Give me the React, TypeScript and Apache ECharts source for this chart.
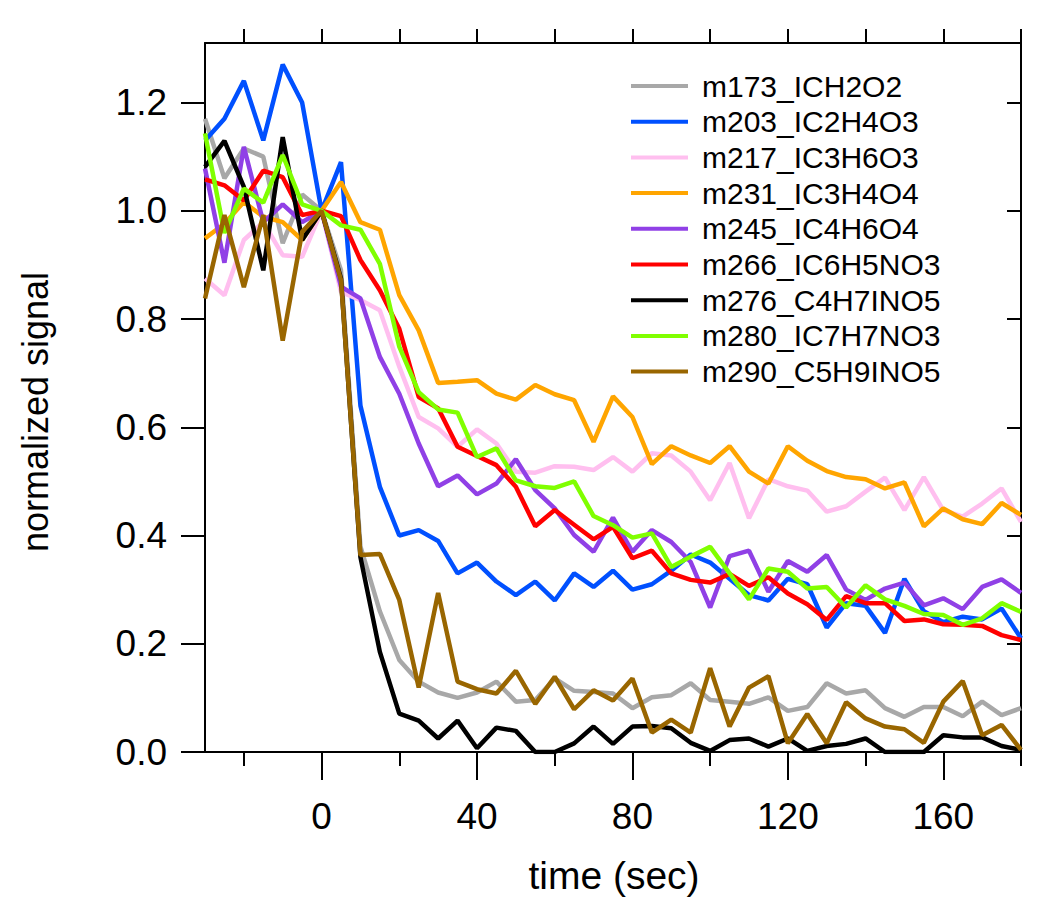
import React, { useEffect, useRef } from "react";
import * as echarts from "echarts";

const timeSec = [
  -30, -25, -20, -15, -10, -5, 0, 5, 10, 15, 20, 25, 30, 35, 40, 45, 50, 55, 60, 65, 70, 75,
  80, 85, 90, 95, 100, 105, 110, 115, 120, 125, 130, 135, 140, 145, 150, 155, 160, 165, 170, 175, 180,
];

const m173 = [
  1.17, 1.06, 1.115, 1.1, 0.94, 1.03, 1.0, 0.89, 0.38, 0.26, 0.17, 0.13, 0.11, 0.1, 0.11, 0.13,
  0.093, 0.096, 0.136, 0.113, 0.111, 0.108, 0.081, 0.101, 0.105, 0.127, 0.096, 0.093, 0.089, 0.101,
  0.076, 0.083, 0.127, 0.108, 0.114, 0.081, 0.065, 0.083, 0.083, 0.066, 0.093, 0.068, 0.081,
];
const m203 = [
  1.13, 1.17, 1.24, 1.13, 1.27, 1.2, 1.0, 1.09, 0.64, 0.49, 0.4, 0.41, 0.39, 0.33, 0.35, 0.315,
  0.29, 0.315, 0.28, 0.33, 0.305, 0.335, 0.3, 0.31, 0.335, 0.365, 0.35, 0.32, 0.29, 0.28,
  0.32, 0.31, 0.23, 0.275, 0.27, 0.22, 0.32, 0.26, 0.24, 0.25, 0.245, 0.265, 0.21,
];
const m217 = [
  0.875, 0.844, 0.946, 0.979, 0.918, 0.915, 1.0, 0.85, 0.835, 0.816, 0.712, 0.619, 0.598, 0.564,
  0.596, 0.57, 0.518, 0.516, 0.528, 0.527, 0.521, 0.545, 0.518, 0.552, 0.548, 0.518, 0.465, 0.534,
  0.432, 0.504, 0.491, 0.483, 0.444, 0.454, 0.481, 0.507, 0.447, 0.508, 0.447, 0.435, 0.459, 0.487, 0.425,
];
const m231 = [
  0.949, 0.976, 1.016, 0.989, 0.979, 0.946, 1.0, 1.053, 0.979, 0.965, 0.844, 0.779, 0.682, 0.684,
  0.687, 0.662, 0.651, 0.678, 0.661, 0.65, 0.573, 0.657, 0.619, 0.532, 0.565, 0.548, 0.534, 0.565,
  0.518, 0.496, 0.565, 0.538, 0.519, 0.508, 0.504, 0.487, 0.498, 0.417, 0.45, 0.43, 0.421, 0.46, 0.438,
];
const m245 = [
  1.078, 0.904, 1.118, 0.979, 1.012, 0.979, 1.0, 0.86, 0.838, 0.73, 0.662, 0.57, 0.491, 0.511,
  0.476, 0.496, 0.541, 0.484, 0.45, 0.401, 0.37, 0.433, 0.37, 0.41, 0.388, 0.351, 0.267, 0.362,
  0.372, 0.296, 0.353, 0.333, 0.364, 0.3, 0.281, 0.302, 0.313, 0.271, 0.284, 0.264, 0.305, 0.319, 0.294,
];
const m266 = [
  1.058, 1.047, 1.019, 1.074, 1.062, 0.992, 1.0, 0.99, 0.909, 0.853, 0.782, 0.656, 0.635, 0.564,
  0.547, 0.53, 0.49, 0.417, 0.447, 0.42, 0.393, 0.416, 0.358, 0.372, 0.33, 0.318, 0.313, 0.329,
  0.307, 0.323, 0.293, 0.273, 0.244, 0.288, 0.275, 0.275, 0.242, 0.245, 0.236, 0.235, 0.233, 0.216, 0.207,
];
const m276 = [
  1.081, 1.129, 1.044, 0.89, 1.136, 0.946, 1.0, 0.875, 0.36, 0.185, 0.071, 0.058, 0.025, 0.058,
  0.007, 0.045, 0.039, 0.0, 0.0, 0.016, 0.047, 0.015, 0.047, 0.048, 0.044, 0.017, 0.002, 0.022,
  0.025, 0.01, 0.025, 0.002, 0.011, 0.015, 0.025, 0.0, 0.0, 0.0, 0.031, 0.027, 0.027, 0.011, 0.004,
];
const m280 = [
  1.143, 0.959, 1.041, 1.015, 1.103, 1.012, 1.0, 0.973, 0.965, 0.902, 0.749, 0.665, 0.633, 0.627,
  0.545, 0.561, 0.502, 0.491, 0.488, 0.5, 0.436, 0.419, 0.396, 0.404, 0.342, 0.361, 0.379, 0.33,
  0.282, 0.339, 0.333, 0.302, 0.305, 0.267, 0.308, 0.282, 0.27, 0.255, 0.253, 0.235, 0.247, 0.275, 0.259,
];
const m290 = [
  0.838, 0.992, 0.859, 0.992, 0.76, 0.961, 1.0, 0.872, 0.364, 0.366, 0.281, 0.119, 0.294, 0.13,
  0.116, 0.108, 0.15, 0.089, 0.139, 0.079, 0.114, 0.095, 0.136, 0.036, 0.06, 0.036, 0.155, 0.047,
  0.119, 0.14, 0.016, 0.07, 0.016, 0.092, 0.062, 0.047, 0.042, 0.017, 0.093, 0.131, 0.031, 0.05, 0.004,
];

const seriesNames = [
  "m173_ICH2O2",
  "m203_IC2H4O3",
  "m217_IC3H6O3",
  "m231_IC3H4O4",
  "m245_IC4H6O4",
  "m266_IC6H5NO3",
  "m276_C4H7INO5",
  "m280_IC7H7NO3",
  "m290_C5H9INO5",
];
const seriesValues = [m173, m203, m217, m231, m245, m266, m276, m280, m290];
const seriesColors = [
  "#A8A8A8",
  "#0050FF",
  "#FFBFEF",
  "#FFA500",
  "#9040E6",
  "#FF0000",
  "#000000",
  "#80FF00",
  "#996600",
];

const xMajorTicks = [0, 40, 80, 120, 160];
const xMinorTicks = [-20, 20, 60, 100, 140, 180];
const xTopTicks = [-20, 0, 20, 40, 60, 80, 100, 120, 140, 160, 180];
const yTicks = [0, 0.2, 0.4, 0.6, 0.8, 1.0, 1.2];
const xTitle = "time (sec)";
const yTitle = "normalized signal";

const FONT = "'Liberation Sans', Arial, Helvetica, sans-serif";

export default function App() {
  const ref = useRef<HTMLDivElement>(null);

  useEffect(() => {
    if (!ref.current) return;
    const chart = echarts.init(ref.current, undefined, { renderer: "svg" });
    const gridRect = { left: 205, right: 18, top: 43, bottom: 146 };
    const axisLine = { show: true, onZero: false, lineStyle: { color: "#000", width: 2 } };
    const tickStyle = { color: "#000", width: 2 };

    const option: any = {
      animation: false,
      backgroundColor: "#fff",
      textStyle: { fontFamily: FONT },
      grid: [
        { ...gridRect, containLabel: false },
        { ...gridRect, containLabel: false },
      ],
      legend: {
        orient: "vertical",
        left: 631,
        top: 71,
        padding: 0,
        itemWidth: 57,
        itemHeight: 4,
        itemGap: 5.7,
        icon: "rect",
        data: seriesNames,
        textStyle: {
          fontSize: 30,
          lineHeight: 30,
          color: "#000",
          fontFamily: FONT,
          padding: [0, 0, 0, 9],
        },
      },
      graphic: [
        {
          type: "text",
          x: 35,
          y: 412,
          rotation: Math.PI / 2,
          style: {
            text: yTitle,
            fontSize: 36,
            fontFamily: FONT,
            fill: "#000",
            align: "center",
            verticalAlign: "middle",
          },
        },
        {
          type: "text",
          x: 614,
          y: 875,
          style: {
            text: xTitle,
            fontSize: 39,
            fontFamily: FONT,
            fill: "#000",
            align: "center",
            verticalAlign: "middle",
          },
        },
      ],
      xAxis: [
        {
          type: "value",
          gridIndex: 0,
          position: "bottom",
          min: -30,
          max: 180,
          axisLine,
          axisTick: { show: true, inside: false, length: 28, customValues: xMajorTicks, lineStyle: tickStyle },
          axisLabel: {
            show: true,
            customValues: xMajorTicks,
            fontSize: 37,
            color: "#000",
            fontFamily: FONT,
            margin: 46,
          },
          splitLine: { show: false },
        },
        {
          type: "value",
          gridIndex: 1,
          position: "bottom",
          min: -30,
          max: 180,
          axisLine: { show: false, onZero: false },
          axisTick: { show: true, inside: false, length: 14, customValues: xMinorTicks, lineStyle: tickStyle },
          axisLabel: { show: false },
          splitLine: { show: false },
        },
        {
          type: "value",
          gridIndex: 1,
          position: "top",
          min: -30,
          max: 180,
          axisLine,
          axisTick: { show: true, inside: false, length: 14, customValues: xTopTicks, lineStyle: tickStyle },
          axisLabel: { show: false },
          splitLine: { show: false },
        },
      ],
      yAxis: [
        {
          type: "value",
          gridIndex: 0,
          position: "left",
          min: 0,
          max: 1.31,
          axisLine,
          axisTick: { show: true, inside: false, length: 24, customValues: yTicks, lineStyle: tickStyle },
          axisLabel: {
            show: true,
            customValues: yTicks,
            formatter: (v: number) => v.toFixed(1),
            fontSize: 37,
            color: "#000",
            fontFamily: FONT,
            margin: 38,
          },
          splitLine: { show: false },
        },
        {
          type: "value",
          gridIndex: 1,
          position: "right",
          min: 0,
          max: 1.31,
          axisLine,
          axisTick: { show: true, inside: true, length: 14, customValues: yTicks, lineStyle: tickStyle },
          axisLabel: { show: false },
          splitLine: { show: false },
        },
      ],
      series: seriesNames.map((name, i) => ({
        name,
        type: "line",
        xAxisIndex: 0,
        yAxisIndex: 0,
        symbol: "none",
        showSymbol: false,
        color: seriesColors[i],
        lineStyle: { color: seriesColors[i], width: 4.5 },
        data: timeSec.map((t, k) => [t, seriesValues[i][k]]),
      })),
    };

    chart.setOption(option);
    return () => chart.dispose();
  }, []);

  return (
    <div
      ref={ref}
      style={{ position: "absolute", left: 0, top: 0, width: 1039, height: 898, background: "#fff" }}
    />
  );
}
